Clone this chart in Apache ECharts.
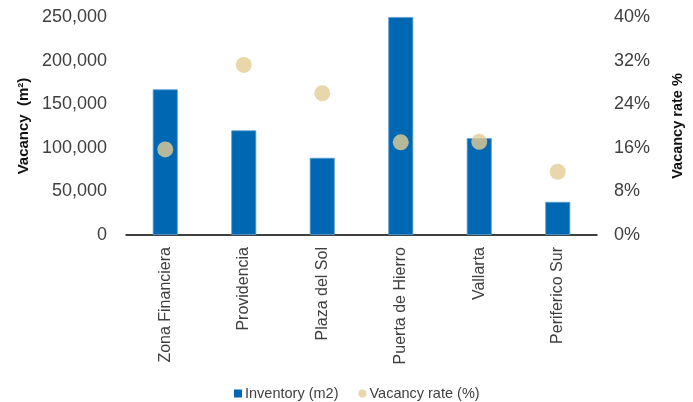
<!DOCTYPE html>
<html><head><meta charset="utf-8">
<script src="https://cdn.jsdelivr.net/npm/echarts@6/dist/echarts.min.js"></script>
<style>html,body{margin:0;padding:0;background:#fff}#c{width:693px;height:402px}</style>
</head><body><div id="c"></div>
<script>
const categories = ['Zona Financiera','Providencia','Plaza del Sol','Puerta de Hierro','Vallarta','Periferico Sur'];
const inventory = [167000, 120000, 88500, 250000, 111000, 38000];
const vacancyRate = [15.7, 31.2, 26.0, 17.0, 17.1, 11.6];
const leftTicks = [0, 50000, 100000, 150000, 200000, 250000];
const rightTicks = [0, 8, 16, 24, 32, 40];

const font = "'Liberation Sans', Arial, sans-serif";
const chart = echarts.init(document.getElementById('c'));
chart.setOption({
  animation: false,
  grid: {left: 126, right: 93, top: 17, bottom: 167, containLabel: false},
  legend: {
    top: 381, left: 229, itemWidth: 8, itemHeight: 8, itemGap: 20,
    itemStyle: {borderWidth: 0},
    textStyle: {fontFamily: font, fontSize: 14.5, color: '#404040', padding: [0,0,0,-2]},
    data: [{name: 'Inventory (m2)', icon: 'rect'}, {name: 'Vacancy rate (%)', icon: 'circle'}]
  },
  xAxis: {
    type: 'category', data: categories,
    axisLine: {lineStyle: {color: '#000', width: 1.5}},
    axisTick: {show: false},
    axisLabel: {rotate: 90, margin: 12, fontFamily: font, fontSize: 16, color: '#404040', interval: 0}
  },
  yAxis: [
    {
      type: 'value', min: leftTicks[0], max: leftTicks[leftTicks.length-1], interval: 50000,
      name: 'Vacancy  (m²)', nameLocation: 'middle', nameGap: 95, nameRotate: 90,
      nameTextStyle: {fontFamily: font, fontSize: 15, fontWeight: 'bold', color: '#111'},
      splitLine: {show: false}, axisLine: {show: false}, axisTick: {show: false},
      axisLabel: {margin: 19, fontFamily: font, fontSize: 18, color: '#404040',
        formatter: v => v.toLocaleString('en-US')}
    },
    {
      type: 'value', min: rightTicks[0], max: rightTicks[rightTicks.length-1], interval: 8,
      name: 'Vacancy rate %', nameLocation: 'middle', nameGap: 73, nameRotate: 90,
      nameTextStyle: {fontFamily: font, fontSize: 14.5, fontWeight: 'bold', color: '#111'},
      splitLine: {show: false}, axisLine: {show: false}, axisTick: {show: false},
      axisLabel: {margin: 17, fontFamily: font, fontSize: 18, color: '#404040',
        formatter: v => v + '%'}
    }
  ],
  series: [
    {
      name: 'Inventory (m2)', type: 'bar', yAxisIndex: 0, data: inventory,
      barWidth: 25,
      itemStyle: {color: '#0068B3', borderColor: '#5b9fd8', borderWidth: 0.8}
    },
    {
      name: 'Vacancy rate (%)', type: 'scatter', yAxisIndex: 1, data: vacancyRate,
      symbol: 'circle', symbolSize: 16, z: 5,
      itemStyle: {color: '#E3CC96'}
    }
  ]
});
</script></body></html>
